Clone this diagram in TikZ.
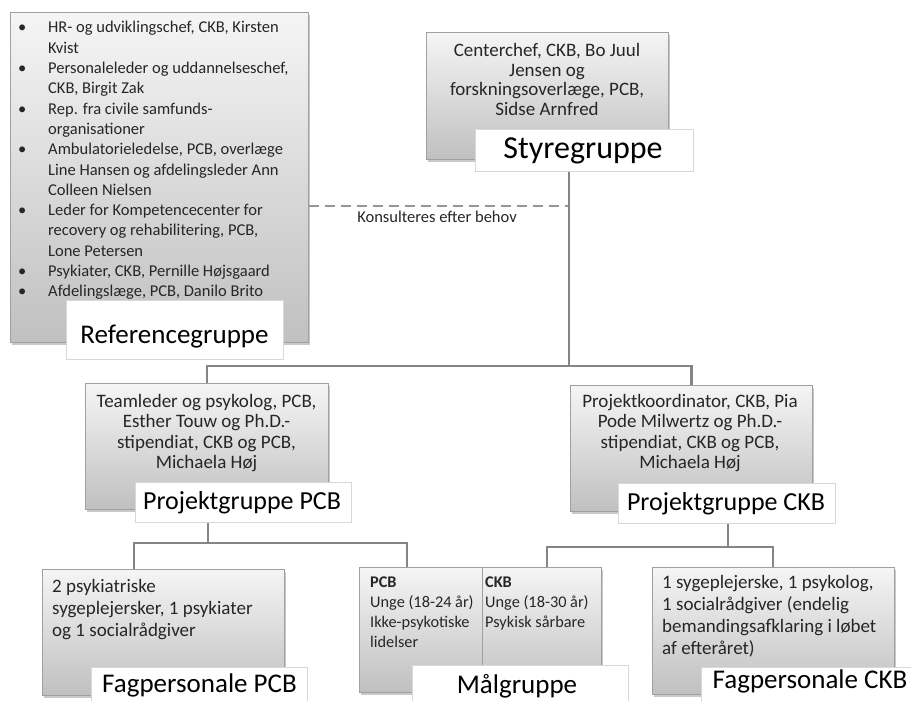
\documentclass[tikz,border=0pt]{standalone}
\usepackage{fontspec}
\setmainfont{Carlito}
\usetikzlibrary{shadows,calc}
\definecolor{boxtop}{HTML}{F5F5F5}
\definecolor{boxmid}{HTML}{E2E2E2}
\definecolor{boxbot}{HTML}{C0C0C0}
\definecolor{boxline}{HTML}{A0A0A0}
\definecolor{lblline}{HTML}{D8D8D8}
\definecolor{connline}{HTML}{858585}
\definecolor{txt}{HTML}{262626}
\begin{document}
\begin{tikzpicture}[x=1pt,y=-1pt,
  gbox/.style={draw=boxline, line width=0.9pt, top color=boxtop, middle color=boxmid, bottom color=boxbot,
    drop shadow={shadow xshift=2pt,shadow yshift=-2.5pt,fill=black!70,opacity=0.3},
    anchor=north west, inner sep=0pt},
  lblbox/.style={draw=lblline, line width=0.8pt, fill=white, anchor=north west, inner sep=0pt},
  lbltext/.style={anchor=base, inner sep=0pt, text=black, font=\fontsize{27}{30}\selectfont},
  bodyc/.style={anchor=base, inner sep=0pt, text=txt, font=\fontsize{19}{20.5}\selectfont},
  bodyl/.style={anchor=base west, inner sep=0pt, text=txt, font=\fontsize{19}{22.3}\selectfont},
  conn/.style={draw=connline, line width=2.6pt},
  dashconn/.style={draw=connline!85, line width=2pt, dash pattern=on 10pt off 6pt},
]
\useasboundingbox (0,0) rectangle (911,701);
\clip (0,0) rectangle (911,701);

% ---------- Referencegruppe ----------
\node[gbox, minimum width=298pt, minimum height=330pt] (refbox) at (10,12) {};
\node[anchor=base west, inner sep=0pt, text=txt, font=\fontsize{16.5}{20.3}\selectfont] (reftext) at (18,33)
 {\begin{tabular}[t]{@{}p{30pt}@{}l@{}}
 \textbullet & HR- og udviklingschef, CKB, Kirsten\\
  & Kvist\\
 \textbullet & Personaleleder og uddannelseschef,\\
  & CKB, Birgit Zak\\
 \textbullet & Rep. fra civile samfunds-\\
  & organisationer\\
 \textbullet & Ambulatorieledelse, PCB, overlæge\\
  & Line Hansen og afdelingsleder Ann\\
  & Colleen Nielsen\\
 \textbullet & Leder for Kompetencecenter for\\
  & recovery og rehabilitering, PCB,\\
  & Lone Petersen\\
 \textbullet & Psykiater, CKB, Pernille Højsgaard\\
 \textbullet & Afdelingslæge, PCB, Danilo Brito
 \end{tabular}};
\node[lblbox, minimum width=217pt, minimum height=59pt] (reflbl) at (66,300) {};
\node[lbltext] (reflbltext) at (174.5,343) {Referencegruppe};

% ---------- Styregruppe ----------
\node[gbox, minimum width=242pt, minimum height=127pt] (stybox) at (426,32) {};
\node[bodyc, font=\fontsize{19}{19.5}\selectfont] (stytext) at (547,57)
 {\begin{tabular}[t]{@{}c@{}}Centerchef, CKB, Bo Juul\\ Jensen og\\ forskningsoverlæge, PCB,\\ Sidse Arnfred\end{tabular}};
\node[lblbox, minimum width=218pt, minimum height=42pt] (stylbl) at (475,129) {};
\node[lbltext, font=\fontsize{32}{36}\selectfont] (stylbltext) at (583,158) {Styregruppe};

% ---------- Projektgruppe PCB ----------
\node[gbox, minimum width=243pt, minimum height=126pt] (pcbbox) at (85,383) {};
\node[bodyc] (pcbtext) at (206.5,407)
 {\begin{tabular}[t]{@{}c@{}}Teamleder og psykolog, PCB,\\ Esther Touw og Ph.D.-\\ stipendiat, CKB og PCB,\\ Michaela Høj\end{tabular}};
\node[lblbox, minimum width=216pt, minimum height=40pt] (pcblbl) at (135,482) {};
\node[lbltext, font=\fontsize{26}{30}\selectfont] (pcblbltext) at (242,509) {Projektgruppe PCB};

% ---------- Projektgruppe CKB ----------
\node[gbox, minimum width=242pt, minimum height=126pt] (ckbbox) at (570,385) {};
\node[bodyc] (ckbtext) at (690,407)
 {\begin{tabular}[t]{@{}c@{}}Projektkoordinator, CKB, Pia\\ Pode Milwertz og Ph.D.-\\ stipendiat, CKB og PCB,\\ Michaela Høj\end{tabular}};
\node[lblbox, minimum width=217pt, minimum height=40pt] (ckblbl) at (618,483) {};
\node[lbltext, font=\fontsize{26}{30}\selectfont] (ckblbltext) at (726,510) {Projektgruppe CKB};

% ---------- Fagpersonale PCB ----------
\node[gbox, minimum width=242pt, minimum height=126pt] (fagpcb) at (42,569) {};
\node[bodyl] (fagpcbtext) at (52,592)
 {\begin{tabular}[t]{@{}l@{}}2 psykiatriske\\ sygeplejersker, 1 psykiater\\ og 1 socialrådgiver\end{tabular}};
\node[lblbox, minimum width=216pt, minimum height=45pt] (fagpcblbl) at (91,667) {};
\node[lbltext] (fagpcblbltext) at (199.5,692) {Fagpersonale PCB};

% ---------- Målgruppe ----------
\node[gbox, minimum width=242pt, minimum height=125pt] (malbox) at (359,567) {};
\draw[draw=boxline, line width=0.9pt] ($(malbox.north west)+(123,0)$) coordinate (mdivtop) -- ($(malbox.south west)+(123,0)$) coordinate (mdivbot);
\node[anchor=base west, inner sep=0pt, text=txt, font=\fontsize{16.3}{20}\selectfont] (malpcb) at (370,587)
 {\begin{tabular}[t]{@{}l@{}}\textbf{PCB}\\ Unge (18-24 år)\\ Ikke-psykotiske\\ lidelser\end{tabular}};
\node[anchor=base west, inner sep=0pt, text=txt, font=\fontsize{16.3}{20}\selectfont] (malckb) at (485,587)
 {\begin{tabular}[t]{@{}l@{}}\textbf{CKB}\\ Unge (18-30 år)\\ Psykisk sårbare\end{tabular}};
\node[lblbox, minimum width=216pt, minimum height=45pt] (mallbl) at (412,665) {};
\node[lbltext] (mallbltext) at (517,693) {Målgruppe};

% ---------- Fagpersonale CKB ----------
\node[gbox, minimum width=242pt, minimum height=127pt] (fagckb) at (652,567) {};
\node[bodyl] (fagckbtext) at (662,588)
 {\begin{tabular}[t]{@{}l@{}}1 sygeplejerske, 1 psykolog,\\ 1 socialrådgiver (endelig\\ bemandingsafklaring i løbet\\ af efteråret)\end{tabular}};
\node[lblbox, minimum width=217pt, minimum height=45pt] (fagckblbl) at (701,667) {};
\node[lbltext] (fagckblbltext) at (810,688) {Fagpersonale CKB};

% ---------- connectors ----------
\coordinate (j0) at (569,206);
\coordinate (j1) at (569,366);
\coordinate (j3) at (208,543);
\coordinate (j4) at (728,547);

\draw[dashconn] (refbox.east |- j0) -- (j0);
\node[anchor=base, inner sep=0pt, text=txt, font=\fontsize{16.5}{18}\selectfont] (konsult) at (437,222) {Konsulteres efter behov};

\draw[conn] (stylbl.south -| j1) -- (j1);
\draw[conn] (pcbbox.north) |- (j1) -| (ckbbox.north);

\draw[conn] (pcblbl.south -| j3) -- (j3);
\draw[conn] ($(fagpcb.north west)+(92,0)$) |- (j3) -| ($(malbox.north west)+(48,0)$);

\draw[conn] (ckblbl.south -| j4) -- (j4);
\draw[conn] ($(malbox.north west)+(188,0)$) |- (j4) -| ($(fagckb.north west)+(121,0)$);
\end{tikzpicture}
\end{document}
